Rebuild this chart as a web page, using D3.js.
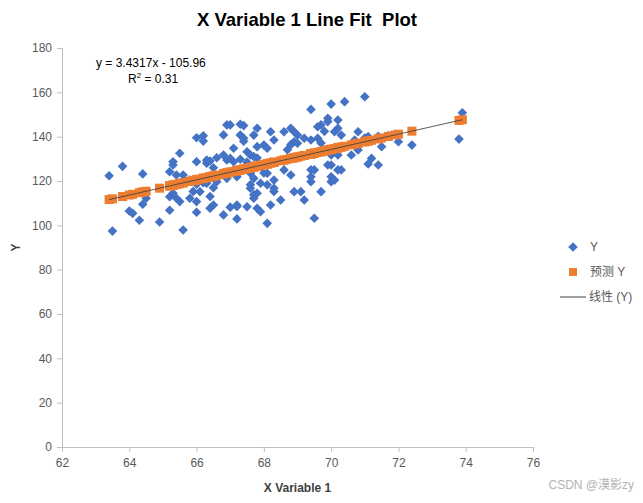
<!DOCTYPE html>
<html>
<head>
<meta charset="utf-8">
<script src="https://cdn.jsdelivr.net/npm/d3@7"></script>
<style>
  body { margin: 0; background: #ffffff; }
  text { font-family: "Liberation Sans", "Noto Sans CJK SC", sans-serif; }
</style>
</head>
<body>
<script>
// Data
const xValues = [
  63.4, 63.5, 63.8, 64.0, 64.1, 64.3, 64.4, 64.4, 64.5, 64.9,
  65.2, 65.2, 65.2, 65.3, 65.3, 65.3, 65.4, 65.4, 65.5, 65.5,
  65.6, 65.6, 65.8, 65.8, 65.9, 66.0, 66.0, 66.0, 66.0, 66.0,
  66.1, 66.2, 66.2, 66.2, 66.3, 66.3, 66.3, 66.3, 66.4, 66.4,
  66.4, 66.5, 66.5, 66.5, 66.6, 66.6, 66.8, 66.8, 66.8, 66.9,
  66.9, 66.9, 67.0, 67.0, 67.0, 67.1, 67.1, 67.2, 67.2, 67.2,
  67.2, 67.3, 67.3, 67.3, 67.4, 67.4, 67.4, 67.5, 67.5, 67.5,
  67.6, 67.6, 67.6, 67.6, 67.6, 67.7, 67.7, 67.7, 67.7, 67.7,
  67.8, 67.8, 67.8, 67.8, 67.8, 67.9, 67.9, 68.0, 68.0, 68.1,
  68.1, 68.1, 68.1, 68.2, 68.2, 68.3, 68.3, 68.3, 68.3, 68.5,
  68.6, 68.6, 68.7, 68.8, 68.8, 68.8, 68.9, 68.9, 68.9, 69.0,
  69.0, 69.1, 69.2, 69.2, 69.4, 69.4, 69.4, 69.4, 69.4, 69.5,
  69.5, 69.5, 69.6, 69.6, 69.7, 69.7, 69.7, 69.8, 69.9, 69.9,
  69.9, 70.0, 70.0, 70.0, 70.0, 70.0, 70.1, 70.1, 70.2, 70.2,
  70.2, 70.2, 70.3, 70.3, 70.4, 70.6, 70.7, 70.8, 70.8, 71.0,
  71.0, 71.1, 71.1, 71.2, 71.4, 71.4, 71.5, 71.7, 71.9, 72.0,
  72.4, 73.8, 73.9
];

const yValues = [
  122.4, 97.4, 126.6, 106.5, 105.4, 102.3, 109.5, 123.2, 112.2, 101.5,
  106.8, 112.9, 124.2, 128.7, 127.2, 114.5, 122.7, 112.2, 132.5, 110.7,
  122.7, 97.9, 112.2, 120.4, 115.3, 128.7, 139.5, 110.7, 105.9, 118.5,
  115.2, 140.4, 138.0, 119.2, 128.0, 122.0, 119.0, 129.4, 129.0, 113.0,
  107.7, 126.0, 117.0, 109.2, 119.7, 130.5, 104.7, 140.8, 131.7, 145.3,
  121.2, 129.5, 145.3, 130.2, 108.2, 134.8, 128.7, 108.5, 102.9, 121.9,
  109.2, 145.6, 140.7, 129.8, 145.0, 139.3, 137.9, 133.2, 108.4, 128.5,
  131.7, 123.5, 116.7, 125.1, 118.3, 140.7, 131.0, 121.2, 112.2, 113.8,
  143.8, 135.5, 107.7, 114.5, 130.4, 119.0, 106.1, 136.2, 123.6, 134.8,
  123.5, 100.9, 118.3, 142.2, 109.2, 138.5, 120.4, 116.7, 115.3, 111.4,
  142.2, 125.0, 134.1, 143.8, 122.7, 136.4, 142.2, 137.7, 115.2, 140.7,
  137.0, 115.2, 139.3, 111.4, 152.3, 138.5, 119.7, 121.9, 125.1, 103.2,
  125.0, 132.6, 139.3, 144.5, 145.3, 115.2, 137.1, 142.4, 148.3, 146.8,
  127.2, 154.7, 119.7, 127.2, 131.7, 121.9, 142.2, 120.4, 147.5, 143.8,
  125.0, 131.7, 140.7, 125.0, 155.8, 131.7, 138.5, 142.2, 134.0, 158.0,
  139.4, 140.0, 127.7, 130.2, 127.2, 140.2, 135.5, 140.5, 141.0, 137.7,
  136.2, 138.9, 150.8
];

const predictedY = [
  111.61, 111.96, 112.99, 113.67, 114.01, 114.70, 115.04, 115.04, 115.39, 116.76,
  117.79, 117.79, 117.79, 118.13, 118.13, 118.13, 118.47, 118.47, 118.82, 118.82,
  119.16, 119.16, 119.85, 119.85, 120.19, 120.53, 120.53, 120.53, 120.53, 120.53,
  120.87, 121.22, 121.22, 121.22, 121.56, 121.56, 121.56, 121.56, 121.90, 121.90,
  121.90, 122.25, 122.25, 122.25, 122.59, 122.59, 123.28, 123.28, 123.28, 123.62,
  123.62, 123.62, 123.96, 123.96, 123.96, 124.30, 124.30, 124.65, 124.65, 124.65,
  124.65, 124.99, 124.99, 124.99, 125.33, 125.33, 125.33, 125.68, 125.68, 125.68,
  126.02, 126.02, 126.02, 126.02, 126.02, 126.36, 126.36, 126.36, 126.36, 126.36,
  126.71, 126.71, 126.71, 126.71, 126.71, 127.05, 127.05, 127.40, 127.40, 127.74,
  127.74, 127.74, 127.74, 128.09, 128.09, 128.43, 128.43, 128.43, 128.43, 129.12,
  129.46, 129.46, 129.80, 130.15, 130.15, 130.15, 130.49, 130.49, 130.49, 130.83,
  130.83, 131.17, 131.52, 131.52, 132.20, 132.20, 132.20, 132.20, 132.20, 132.55,
  132.55, 132.55, 132.89, 132.89, 133.23, 133.23, 133.23, 133.58, 133.92, 133.92,
  133.92, 134.26, 134.26, 134.26, 134.26, 134.26, 134.60, 134.60, 134.95, 134.95,
  134.95, 134.95, 135.29, 135.29, 135.63, 136.32, 136.66, 137.01, 137.01, 137.69,
  137.69, 138.03, 138.03, 138.38, 139.06, 139.06, 139.41, 140.09, 140.78, 141.12,
  142.49, 147.30, 147.64
];

// trendline from the label on the chart
const slope = 3.4317;
const intercept = -105.96;
const xTicks = [62, 64, 66, 68, 70, 72, 74, 76];
const yTicks = [0, 20, 40, 60, 80, 100, 120, 140, 160, 180];
const legendLabels = ['Y', '预测 Y', '线性 (Y)'];

let width = 643,
  height = 503;

let margin = {
  top: 48,
  bottom: 56,
  left: 62,
  right: 110
};

let svg = d3
  .select('body')
  .append('svg')
    .attr('width', width)
    .attr('height', height);

let xScale = d3.scaleLinear()
  .domain([62, 76])
  .range([margin.left, width - margin.right]);

let yScale = d3.scaleLinear()
  .domain([0, 180])
  .range([height - margin.bottom, margin.top]);

let axisColor = '#bfbfbf';
let labelColor = '#595959';

// axes
let xAxis = svg
  .append('g')
    .attr('transform', `translate(0,${yScale(0)})`)
  .call(d3.axisBottom(xScale).tickValues(xTicks).tickSize(5).tickPadding(6));

let yAxis = svg
  .append('g')
    .attr('transform', `translate(${xScale(62)},0)`)
  .call(d3.axisLeft(yScale).tickValues(yTicks).tickSize(5).tickPadding(5));

[xAxis, yAxis].forEach(function(ax) {
  ax.select('.domain').attr('stroke', axisColor);
  ax.selectAll('.tick line').attr('stroke', axisColor);
  ax.selectAll('.tick text')
    .attr('fill', labelColor)
    .style('font-size', '12px');
});

// axis titles
svg.append('text')
  .attr('x', (xScale(62) + xScale(76)) / 2)
  .attr('y', 492)
  .attr('text-anchor', 'middle')
  .attr('fill', '#404040')
  .style('font-size', '12px')
  .style('font-weight', 'bold')
  .text('X Variable 1');

svg.append('text')
  .attr('transform', `translate(20,${(yScale(0) + yScale(180)) / 2}) rotate(-90)`)
  .attr('text-anchor', 'middle')
  .attr('fill', '#404040')
  .style('font-size', '12px')
  .style('font-weight', 'bold')
  .text('Y');

// title (keeps the double space)
svg.append('text')
  .attr('x', 307)
  .attr('y', 26)
  .attr('text-anchor', 'middle')
  .attr('fill', '#000000')
  .style('font-size', '18.5px')
  .style('font-weight', 'bold')
  .style('white-space', 'pre')
  .text('X Variable 1 Line Fit  Plot');

// observed Y (diamonds)
let points = xValues.map((x, i) => ({ x: x, y: yValues[i], p: predictedY[i] }));

let diamond = d3.symbol().type(d3.symbolSquare).size(46);

svg.append('g')
  .selectAll('path')
    .data(points)
  .enter()
  .append('path')
    .attr('d', diamond)
    .attr('transform', d => `translate(${xScale(d.x)},${yScale(d.y)}) rotate(45)`)
    .attr('fill', '#4472c4');

// predicted Y (squares)
svg.append('g')
  .selectAll('rect')
    .data(points)
  .enter()
  .append('rect')
    .attr('x', d => xScale(d.x) - 4.5)
    .attr('y', d => yScale(d.p) - 4.5)
    .attr('width', 9)
    .attr('height', 9)
    .attr('fill', '#ed7d31');

// linear trendline
let xExtent = d3.extent(xValues);
svg.append('line')
  .attr('x1', xScale(xExtent[0]))
  .attr('y1', yScale(slope * xExtent[0] + intercept))
  .attr('x2', xScale(xExtent[1]))
  .attr('y2', yScale(slope * xExtent[1] + intercept))
  .attr('stroke', '#404040')
  .attr('stroke-width', 1)
  .attr('stroke-opacity', 0.85);

// equation label
svg.append('text')
  .attr('x', 96)
  .attr('y', 67)
  .attr('fill', '#000000')
  .style('font-size', '12px')
  .text('y = 3.4317x - 105.96');

let r2 = svg.append('text')
  .attr('x', 128)
  .attr('y', 83)
  .attr('fill', '#000000')
  .style('font-size', '12px');
r2.append('tspan').text('R');
r2.append('tspan').attr('dy', -5).style('font-size', '8px').text('2');
r2.append('tspan').attr('dy', 5).text(' = 0.31');

// legend
let legend = svg.append('g');
let legendY = [247, 272, 297];

legend.append('path')
  .attr('d', diamond)
  .attr('transform', `translate(573,${legendY[0]}) rotate(45)`)
  .attr('fill', '#4472c4');

legend.append('rect')
  .attr('x', 569)
  .attr('y', legendY[1] - 4)
  .attr('width', 8)
  .attr('height', 8)
  .attr('fill', '#ed7d31');

legend.append('line')
  .attr('x1', 560)
  .attr('x2', 586)
  .attr('y1', legendY[2])
  .attr('y2', legendY[2])
  .attr('stroke', '#404040')
  .attr('stroke-width', 1);

legend.selectAll('text')
    .data(legendLabels)
  .enter()
  .append('text')
    .attr('x', (d, i) => i === 2 ? 589 : 590)
    .attr('y', (d, i) => legendY[i] + 4)
    .attr('fill', labelColor)
    .style('font-size', '12px')
    .text(d => d);

// watermark
svg.append('text')
  .attr('x', 634)
  .attr('y', 489)
  .attr('text-anchor', 'end')
  .attr('fill', '#b3b3b3')
  .style('font-size', '12px')
  .text('CSDN @漠影zy');
</script>
</body>
</html>
